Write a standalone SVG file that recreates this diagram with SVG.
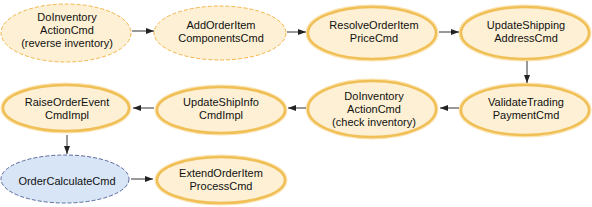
<svg xmlns="http://www.w3.org/2000/svg" width="592" height="207" viewBox="0 0 592 207">
<defs>
<marker id="ah" viewBox="0 0 8 6" refX="8" refY="3" markerWidth="8" markerHeight="6" markerUnits="userSpaceOnUse" orient="auto">
<path d="M0,0 L8,3 L0,6 Z" fill="#222"/>
</marker>
</defs>
<style>
.solid{fill:#fdf0d4;stroke:#f0bf55;stroke-width:2.5}
.halo{fill:none;stroke:#fbe3b0;stroke-width:5}
.dash{fill:#fdf0d4;stroke:#f3b54a;stroke-width:1;stroke-dasharray:4 2}
.blue{fill:#d7e5f6;stroke:#5a6a9e;stroke-width:1;stroke-dasharray:4 2}
text{font-family:"Liberation Sans",Arial,sans-serif;font-size:11px;fill:#111;text-anchor:middle}
.c{stroke:#333;stroke-width:1;fill:none;marker-end:url(#ah)}
</style>
<g id="n1"><ellipse class="dash" cx="66" cy="33" rx="65" ry="29"/><text x="67" y="21">DoInventory</text><text x="67" y="34">ActionCmd</text><text x="67" y="47">(reverse inventory)</text></g>
<g id="n2"><ellipse class="dash" cx="220" cy="33" rx="66" ry="27"/><text x="221" y="29">AddOrderItem</text><text x="221" y="42">ComponentsCmd</text></g>
<g id="n3"><ellipse class="halo" cx="372" cy="33" rx="64" ry="26"/><ellipse class="solid" cx="372" cy="33" rx="64" ry="26"/><text x="374" y="29">ResolveOrderItem</text><text x="374" y="42">PriceCmd</text></g>
<g id="n4"><ellipse class="halo" cx="525" cy="33" rx="64" ry="26"/><ellipse class="solid" cx="525" cy="33" rx="64" ry="26"/><text x="526" y="29">UpdateShipping</text><text x="526" y="42">AddressCmd</text></g>
<g id="n5"><ellipse class="halo" cx="525" cy="110" rx="64" ry="25"/><ellipse class="solid" cx="525" cy="110" rx="64" ry="25"/><text x="526" y="106">ValidateTrading</text><text x="526" y="119">PaymentCmd</text></g>
<g id="n6"><ellipse class="halo" cx="372" cy="109" rx="64" ry="28"/><ellipse class="solid" cx="372" cy="109" rx="64" ry="28"/><text x="374" y="100">DoInventory</text><text x="374" y="113">ActionCmd</text><text x="374" y="126">(check inventory)</text></g>
<g id="n7"><ellipse class="halo" cx="221" cy="110" rx="64" ry="23"/><ellipse class="solid" cx="221" cy="110" rx="64" ry="23"/><text x="221" y="106">UpdateShipInfo</text><text x="221" y="119">CmdImpl</text></g>
<g id="n8"><ellipse class="halo" cx="66" cy="108" rx="63" ry="23"/><ellipse class="solid" cx="66" cy="108" rx="63" ry="23"/><text x="67" y="106">RaiseOrderEvent</text><text x="67" y="119">CmdImpl</text></g>
<g id="n9"><ellipse class="blue" cx="65" cy="179" rx="64" ry="24"/><text x="67" y="185">OrderCalculateCmd</text></g>
<g id="n10"><ellipse class="halo" cx="221" cy="180" rx="64" ry="23"/><ellipse class="solid" cx="221" cy="180" rx="64" ry="23"/><text x="221" y="177">ExtendOrderItem</text><text x="221" y="190">ProcessCmd</text></g>
<g id="connectors">
<line class="c" x1="132" y1="31" x2="154" y2="31"/>
<line class="c" x1="287" y1="32" x2="306" y2="32"/>
<line class="c" x1="439" y1="32" x2="459" y2="32"/>
<line class="c" x1="527" y1="61" x2="527" y2="83"/>
<line class="c" x1="459" y1="108" x2="440" y2="108"/>
<line class="c" x1="306" y1="108" x2="288" y2="108"/>
<line class="c" x1="154" y1="108" x2="133" y2="108"/>
<line class="c" x1="67" y1="135" x2="67" y2="154"/>
<line class="c" x1="131" y1="179" x2="153" y2="179"/>
</g>
</svg>
